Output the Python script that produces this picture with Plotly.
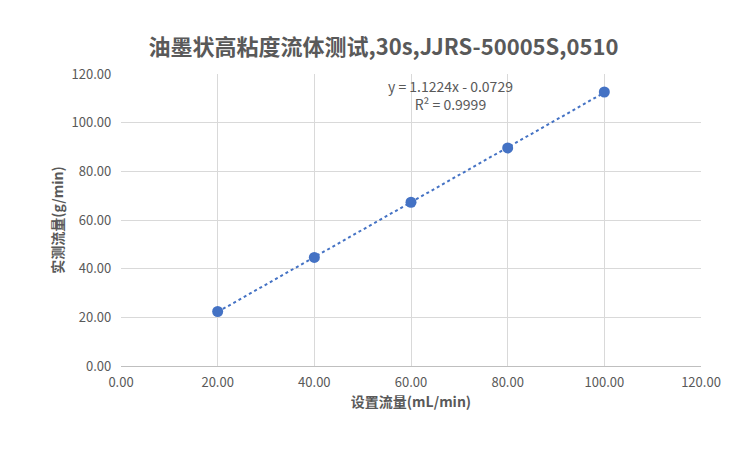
import numpy as np
import plotly.graph_objects as go

set_flow = [20.0, 40.0, 60.0, 80.0, 100.0]
real_flow = [22.4, 44.6, 67.3, 89.6, 112.6]

slope, intercept = np.polyfit(set_flow, real_flow, 1)
fit_y = [slope * x + intercept for x in set_flow]

font = "Noto Sans CJK SC"
grey = "#595959"

fig = go.Figure()
fig.add_trace(go.Scatter(x=set_flow, y=fit_y, mode="lines",
                         line=dict(color="#4472C4", width=2, dash="dot"), showlegend=False))
fig.add_trace(go.Scatter(x=set_flow, y=real_flow, mode="markers",
                         marker=dict(color="#4472C4", size=11), showlegend=False))

fig.add_annotation(x=0.68, y=1.0, xref="paper", yref="paper", showarrow=False,
                   text="y = 1.1224x - 0.0729<br>R² = 0.9999", align="center",
                   font=dict(family=font, size=14, color=grey))

fig.update_layout(
    width=751, height=451,
    margin=dict(l=113, r=58, t=66, b=93),
    paper_bgcolor="white", plot_bgcolor="white",
    title=dict(text="<b>油墨状高粘度流体测试,30s,JJRS-50005S,0510</b>", x=0.5, y=0.93,
               xanchor="center", font=dict(family=font, size=22, color=grey)),
    font=dict(family=font, color=grey),
    xaxis=dict(range=[0, 120], dtick=20, tickformat=".2f", showgrid=True, gridcolor="#D9D9D9",
               zeroline=False, showline=True, linecolor="#BFBFBF", tickfont=dict(size=13),
               ticklabelstandoff=4,
               title=dict(text="<b>设置流量(mL/min)</b>", font=dict(size=14), standoff=6)),
    yaxis=dict(range=[0, 120], dtick=20, tickformat=".2f", showgrid=True, gridcolor="#D9D9D9",
               zeroline=False, tickfont=dict(size=13), ticksuffix="   ",
               title=dict(text="<b>实测流量(g/min)</b>", font=dict(size=14), standoff=4)),
)

fig.write_html("out.html")
